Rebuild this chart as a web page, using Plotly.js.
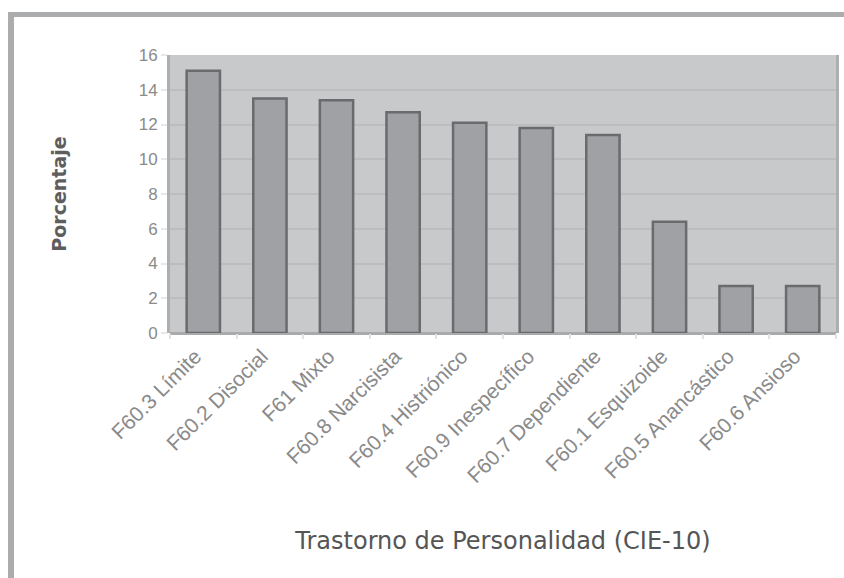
<!DOCTYPE html>
<html>
<head>
<meta charset="utf-8">
<script src="https://cdn.plot.ly/plotly-3.0.1.min.js"></script>
<style>
html,body{margin:0;padding:0;background:#fff;}
#wrap{position:relative;width:844px;height:578px;}
#chart{position:absolute;left:0;top:0;width:844px;height:578px;}
#frame{position:absolute;left:8px;top:12px;right:0;bottom:0;border-top:5px solid #aaacae;border-left:6px solid #aaacae;pointer-events:none;}
</style>
</head>
<body>
<div id="wrap"><div id="chart"></div><div id="frame"></div></div>
<script>
const categories = ["F60.3 Límite","F60.2 Disocial","F61 Mixto","F60.8 Narcisista","F60.4 Histriónico","F60.9 Inespecífico","F60.7 Dependiente","F60.1 Esquizoide","F60.5 Anancástico","F60.6 Ansioso"];
const percentages = [15.1, 13.5, 13.4, 12.7, 12.1, 11.8, 11.4, 6.4, 2.7, 2.7];
const yTicks = [0,2,4,6,8,10,12,14,16];

const trace = {
  type: 'bar',
  x: categories,
  y: percentages,
  marker: {color: '#a0a1a5', line: {color: '#6a6b6e', width: 2.5}},
  hoverinfo: 'x+y'
};

const layout = {
  width: 844, height: 578,
  margin: {l: 170, r: 8, t: 55, b: 245},
  paper_bgcolor: '#ffffff',
  plot_bgcolor: '#c8c9cb',
  bargap: 0.5,
  showlegend: false,
  font: {family: 'Arial, "Liberation Sans", sans-serif', color: '#8a8a8a', size: 13},
  xaxis: {
    type: 'category',
    tickangle: -45,
    tickfont: {size: 21, color: '#8a8a8a'},
    ticklabelshift: -8,
    ticklabelstandoff: 6,
    ticks: 'outside', tickson: 'boundaries', ticklen: 5, tickcolor: '#e2e2e2', tickwidth: 2,
    showline: false,
    title: {text: 'Trastorno de Personalidad (CIE-10)', standoff: 46,
            font: {size: 24, color: '#555555', family: '"DejaVu Sans", Verdana, sans-serif'}}
  },
  yaxis: {
    range: [0, 16],
    tickvals: yTicks,
    ticktext: yTicks.map(String),
    tickfont: {size: 17, color: '#8a8a8a'},
    ticks: 'outside', ticklen: 6, tickcolor: '#e8e8e8', tickwidth: 2,
    showgrid: true, gridcolor: '#bcbdbf', gridwidth: 2,
    zeroline: true, zerolinecolor: '#a9aaac', zerolinewidth: 3,
    showline: true, mirror: true, linecolor: '#adaeb0', linewidth: 3,
    title: {text: '<b>Porcentaje</b>', standoff: 68,
            font: {size: 19, color: '#5e5e5e', family: '"DejaVu Sans", Verdana, sans-serif'}}
  }
};

Plotly.newPlot('chart', [trace], layout, {displayModeBar: false, staticPlot: true});
</script>
</body>
</html>
